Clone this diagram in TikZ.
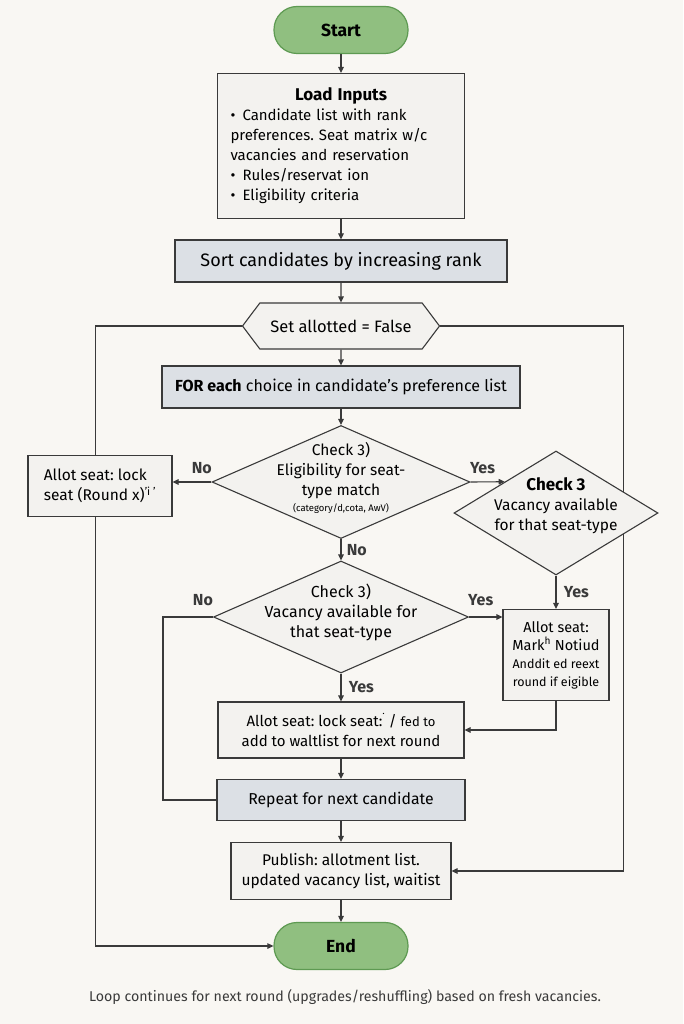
\documentclass[tikz,border=0pt]{standalone}
\usepackage{fontspec}
\setmainfont{Fira Sans}
\frenchspacing
\usetikzlibrary{shapes.geometric,shapes.symbols,arrows.meta,backgrounds}

\definecolor{bgcol}{HTML}{F9F7F3}
\definecolor{linecol}{HTML}{3A3A3A}
\definecolor{boxwhite}{HTML}{F3F2EF}
\definecolor{boxgray}{HTML}{DCE0E5}
\definecolor{termfill}{HTML}{90BF80}
\definecolor{termdraw}{HTML}{5E9A52}

\tikzset{
  line/.style={draw=linecol, line width=1.1pt},
  arr/.style={line, -{Triangle[length=6pt,width=5.5pt]}},
  box/.style={draw=linecol, line width=1.1pt, fill=boxwhite, align=center, inner sep=0pt},
  gbox/.style={box, fill=boxgray},
  term/.style={draw=termdraw, line width=1.2pt, fill=termfill, rounded corners=23pt,
    minimum width=134pt, minimum height=47pt, font=\fontsize{17.5}{20}\selectfont\bfseries},
  dia/.style={diamond, draw=linecol, line width=1.1pt, fill=boxwhite, inner sep=0pt},
  dtxt/.style={align=center, inner sep=0pt, font=\fontsize{15.5}{20}\selectfont},
  lbl/.style={font=\fontsize{16}{19}\selectfont\bfseries, text=linecol}
}

\begin{document}
\begin{tikzpicture}[x=1pt,y=-1pt,font=\fontsize{15.5}{20}\selectfont]

\useasboundingbox (0,0) rectangle (683,1024);

\node[term] (Start) at (341,30) {Start};
\node[box, minimum width=247pt, minimum height=145pt, text width=221pt, align=left, font=\fontsize{15}{20}\selectfont] (Load) at (341,146)
  {{\centering\fontsize{17}{21}\selectfont\bfseries Load Inputs\par}
   \hangindent=12pt\hangafter=1\makebox[12pt][l]{\textbullet}Candidate list with rank\\preferences. Seat matrix w/c\\vacancies and reservation\par
   \makebox[12pt][l]{\textbullet}Rules/reservat ion\par
   \makebox[12pt][l]{\textbullet}Eligibility criteria\par\vspace*{-6pt}};
\node[gbox, minimum width=332pt, minimum height=42pt, font=\fontsize{18}{20}\selectfont] (Sort) at (341,261) {Sort candidates by increasing rank};
\node[draw=linecol, line width=1.1pt, fill=boxwhite, signal, signal to=east and west, signal pointer angle=106,
  minimum width=197pt, minimum height=46pt, inner sep=0pt, font=\fontsize{16.5}{20}\selectfont] (Set) at (341,326) {Set allotted = False};
\node[gbox, minimum width=358pt, minimum height=42pt, font=\fontsize{16}{20}\selectfont] (For) at (341,387) {\textbf{FOR each} choice in candidate’s preference list};

\node[dia, minimum width=258pt, minimum height=113pt] (Elig) at (341,482) {};
\node[dtxt] (EligT) at (341,478) {Check 3)\\Eligibility for seat-\\type match\\[-4pt]{\fontsize{9.5}{10}\selectfont (category/d,cota, AwV)}};
\node[dia, minimum width=204pt, minimum height=124pt] (Avail) at (556,513) {};
\node[dtxt] (AvailT) at (556,506) {{\fontsize{17}{19}\selectfont\bfseries Check 3}\\Vacancy available\\for that seat-type};
\node[box, minimum width=144pt, minimum height=61pt, align=left] (Left) at (100,486) {Allot seat: lock\\seat (Round x)\textsuperscript{’i ’}};

\node[dia, minimum width=255pt, minimum height=112pt] (Vac) at (341,617) {};
\node[dtxt, font=\fontsize{16}{20}\selectfont] (VacT) at (341,612) {Check 3)\\Vacancy available for\\that seat-type};
\node[box, minimum width=106pt, minimum height=91pt, font=\fontsize{14.5}{18}\selectfont] (Mark) at (556,655) {Allot seat:\\Mark\textsuperscript{h} Notiud\\{\fontsize{12.5}{18}\selectfont Anddit ed reext}\\{\fontsize{12.5}{18}\selectfont round if eigible}};
\node[box, minimum width=246pt, minimum height=56pt, font=\fontsize{15}{20}\selectfont] (Waitl) at (341,730) {Allot seat: lock seat:\textsuperscript{˙} / {\fontsize{13}{15}\selectfont fed to}\\add to waltlist for next round};

\node[gbox, minimum width=248pt, minimum height=41pt, font=\fontsize{15.8}{20}\selectfont] (Rep) at (341,800) {Repeat for next candidate};
\node[box, minimum width=220pt, minimum height=57pt] (Pub) at (341,871) {Publish: allotment list.\\updated vacancy list, waitist};
\node[term] (End) at (341,946) {End};
\node[font=\fontsize{14.2}{16}\selectfont, text=linecol] (Note) at (345,997) {Loop continues for next round (upgrades/reshuffling) based on fresh vacancies.};

\draw[arr] (Start) -- (Load);
\draw[arr] (Load) -- (Sort);
\draw[arr] (Sort) -- (Set);
\draw[arr] (Set) -- (For);
\draw[arr] (For) -- (Elig);
\draw[arr] (Elig.west) -- (Elig.west -| Left.east) node[lbl, pos=0.25, above=4pt] {No};
\draw[arr] (Elig.east) -- (Avail.north west) node[lbl, pos=0.35, above=4pt] {Yes};
\draw[arr] (Elig.south) -- (Vac.north) node[lbl, midway, right=2pt] {No};
\draw[line] (Vac.west) -- node[lbl, pos=0.2, above=7pt] {No} ++(-50,0) |- (Rep.west);
\draw[arr] (Vac.east) -- (Vac.east -| Mark.west) node[lbl, pos=0.35, above=7pt] {Yes};
\draw[arr] (Vac.south) -- (Waitl.north) node[lbl, midway, right=4pt] {Yes};
\draw[arr] (Avail.south) -- (Mark.north) node[lbl, midway, right=4pt] {Yes};
\draw[arr] (Mark.south) |- (Waitl.east);
\draw[arr] (Waitl) -- (Rep);
\draw[arr] (Rep) -- (Pub);
\draw[arr] (Pub) -- (End);

\begin{scope}[on background layer]
\fill[bgcol] (0,0) rectangle (683,1024);
\draw[arr] (Set.west) -- ++(-146,0) |- (End.west);
\draw[arr] (Set.east) -- ++(183,0) |- (Pub.east);
\end{scope}
\end{tikzpicture}
\end{document}
